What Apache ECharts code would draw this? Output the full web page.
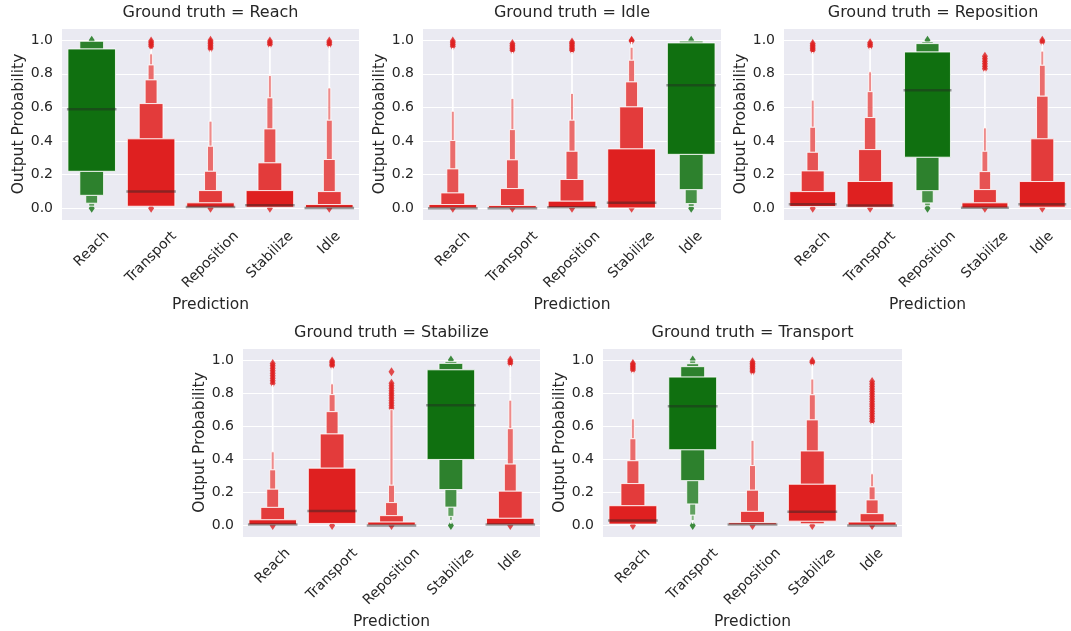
<!DOCTYPE html>
<html><head><meta charset="utf-8">
<script src="https://cdn.jsdelivr.net/npm/echarts@6/dist/echarts.min.js"></script>
<style>html,body{margin:0;padding:0;background:#fff}#main{width:1071px;height:631px}</style>
</head><body><div id="main"></div>
<script>
// ---------------- DATA ----------------
const categories = ['Reach', 'Transport', 'Reposition', 'Stabilize', 'Idle'];
const panelTitles = ['Ground truth = Reach', 'Ground truth = Idle', 'Ground truth = Reposition', 'Ground truth = Stabilize', 'Ground truth = Transport'];
const groundTruthIndex = [0, 4, 2, 3, 1];

// Panel: Ground truth = Reach
const reachMedians = [0.59, 0.10, 0.008, 0.018, 0.002];
const reachUpper = [[0.948, 0.994], [0.413, 0.623, 0.764, 0.853, 0.919, 0.95], [0.032, 0.105, 0.22, 0.369, 0.518, 0.94], [0.105, 0.27, 0.472, 0.657, 0.79, 0.889, 0.965], [0.022, 0.099, 0.29, 0.524, 0.716, 0.875, 0.965]];
const reachLower = [[0.22, 0.077, 0.03, 0.012], [0.012], [0.006], [0.006], [0.003]];
const reachOutliers = [[0.0, 1.0], [0.0, 0.965, 0.975, 0.985, 0.995], [0.0, 0.95, 0.96, 0.97, 0.98, 0.99, 1.0], [0.0, 0.975, 0.985, 0.995], [0.0, 0.975, 0.985, 0.995]];

// Panel: Ground truth = Idle
const idleMedians = [0.0, 0.0, 0.006, 0.032, 0.732];
const idleUpper = [[0.022, 0.091, 0.234, 0.403, 0.577, 0.955], [0.016, 0.117, 0.288, 0.468, 0.653, 0.93], [0.042, 0.171, 0.339, 0.524, 0.683, 0.93], [0.353, 0.603, 0.752, 0.881, 0.958, 0.99], [0.984, 0.995]];
const idleLower = [[0.002], [0.002], [0.004], [0.002], [0.321, 0.111, 0.028, 0.01]];
const idleOutliers = [[0.0, 0.965, 0.975, 0.985, 0.995], [0.0, 0.94, 0.95, 0.96, 0.97, 0.98], [0.0, 0.94, 0.95, 0.96, 0.97, 0.98, 0.99], [0.0, 0.995, 1.0], [0.0, 1.0]];

// Panel: Ground truth = Reposition
const repositionMedians = [0.024, 0.016, 0.702, 0.003, 0.024];
const repositionUpper = [[0.099, 0.222, 0.333, 0.482, 0.643, 0.93], [0.159, 0.349, 0.54, 0.694, 0.812, 0.955], [0.93, 0.98, 0.99], [0.032, 0.111, 0.218, 0.339, 0.478, 0.587, 0.82], [0.159, 0.413, 0.667, 0.851, 0.935, 0.98]];
const repositionLower = [[0.01], [0.006], [0.304, 0.105, 0.032, 0.015], [0.002], [0.006]];
const repositionOutliers = [[0.0, 0.94, 0.95, 0.96, 0.97, 0.98], [0.0, 0.965, 0.975, 0.985], [0.0, 1.0], [0.0, 0.83, 0.845, 0.86, 0.875, 0.89, 0.905], [0.0, 0.99, 1.0]];

// Panel: Ground truth = Stabilize
const stabilizeMedians = [0.005, 0.087, 0.0, 0.727, 0.005];
const stabilizeUpper = [[0.034, 0.109, 0.219, 0.336, 0.445, 0.85], [0.346, 0.553, 0.688, 0.791, 0.856, 0.955], [0.02, 0.059, 0.138, 0.243, 0.70], [0.941, 0.98, 0.992], [0.043, 0.207, 0.371, 0.585, 0.757, 0.893, 0.97]];
const stabilizeLower = [[0.004], [0.012], [0.002], [0.399, 0.217, 0.111, 0.055, 0.03, 0.01], [0.004]];
const stabilizeOutliers = [[0.0, 0.86, 0.875, 0.89, 0.905, 0.92, 0.935, 0.95, 0.965, 0.98], [0.0, 0.965, 0.975, 0.985, 0.995], [0.0, 0.71, 0.725, 0.74, 0.755, 0.77, 0.785, 0.80, 0.815, 0.83, 0.845, 0.86, 0.93], [0.0, 1.0], [0.0, 0.98, 0.99, 1.0]];

// Panel: Ground truth = Transport
const transportMedians = [0.03, 0.721, 0.005, 0.083, 0.0];
const transportUpper = [[0.119, 0.253, 0.391, 0.524, 0.644, 0.93], [0.897, 0.96, 0.978, 0.995], [0.016, 0.085, 0.213, 0.362, 0.514, 0.92], [0.249, 0.45, 0.638, 0.79, 0.885, 0.975], [0.02, 0.071, 0.154, 0.233, 0.312, 0.423, 0.62]];
const transportLower = [[0.008], [0.458, 0.271, 0.13, 0.063, 0.03, 0.01], [0.004], [0.026, 0.01], [0.002]];
const transportOutliers = [[0.0, 0.94, 0.95, 0.96, 0.97, 0.98], [0.0, 1.0], [0.0, 0.93, 0.94, 0.95, 0.96, 0.97, 0.98, 0.99], [0.0, 0.985, 0.995], [0.0, 0.63, 0.645, 0.66, 0.675, 0.69, 0.705, 0.72, 0.735, 0.75, 0.765, 0.78, 0.795, 0.81, 0.825, 0.84, 0.855, 0.87]];

const yTicks = [0.0, 0.2, 0.4, 0.6, 0.8, 1.0];

// ---------------- STYLE / LAYOUT ----------------
const panels = [
  { medians: reachMedians, upper: reachUpper, lower: reachLower, outliers: reachOutliers },
  { medians: idleMedians, upper: idleUpper, lower: idleLower, outliers: idleOutliers },
  { medians: repositionMedians, upper: repositionUpper, lower: repositionLower, outliers: repositionOutliers },
  { medians: stabilizeMedians, upper: stabilizeUpper, lower: stabilizeLower, outliers: stabilizeOutliers },
  { medians: transportMedians, upper: transportUpper, lower: transportLower, outliers: transportOutliers }
];
const gridBoxes = [
  { left: 62, top: 28, width: 297, height: 192 },
  { left: 423, top: 28, width: 298, height: 192 },
  { left: 784, top: 28, width: 298, height: 192 },
  { left: 243, top: 348, width: 297, height: 192 },
  { left: 603, top: 348, width: 299, height: 192 }
];
const FONT = 'DejaVu Sans';
const TEXT = '#262626';
const RED = [223, 32, 32], GREEN = [16, 112, 16];
const LEVEL_MIX = [0, 0.12, 0.23, 0.34, 0.48, 0.75, 1, 1, 1, 1];
function levelColor(base, lvl) {
  const t = LEVEL_MIX[Math.min(lvl, LEVEL_MIX.length - 1)];
  return 'rgb(' + base.map(c => Math.round(c + (255 - c) * t)).join(',') + ')';
}
const baseRed = levelColor(RED, 0), baseGreen = levelColor(GREEN, 0);

// measure label widths for matplotlib-like centred rotated labels
const cv = document.createElement('canvas').getContext('2d');
cv.font = '14px "' + FONT + '"';
const rich = {};
categories.forEach(c => {
  const L = cv.measureText(c).width;
  const P = L / 2;
  rich[c] = { padding: [P, P, 0, 0], fontSize: 14, color: TEXT, fontFamily: FONT };
});

const grid = [], xAxis = [], yAxis = [], series = [], graphic = [];
panels.forEach((p, i) => {
  const g = gridBoxes[i];
  const gt = groundTruthIndex[i];
  grid.push(Object.assign({ show: true, backgroundColor: '#eaeaf2', borderWidth: 0, containLabel: false }, g));
  xAxis.push({
    type: 'category', gridIndex: i, data: categories,
    axisLine: { show: false }, axisTick: { show: false }, splitLine: { show: false },
    axisLabel: {
      interval: 0, rotate: 45, align: 'center', verticalAlign: 'middle', margin: 14,
      fontSize: 14, color: TEXT, fontFamily: FONT,
      formatter: v => '{' + v + '|' + v + '}', rich: rich
    },
    name: 'Prediction', nameLocation: 'middle', nameGap: 77,
    nameTextStyle: { fontSize: 15.5, color: TEXT, fontFamily: FONT }
  });
  yAxis.push({
    type: 'value', gridIndex: i, min: -0.07, max: 1.073, splitNumber: 5,
    axisLine: { show: false }, axisTick: { show: false },
    splitLine: { show: true, lineStyle: { color: '#ffffff', width: 1.2 } },
    axisLabel: {
      showMinLabel: false, showMaxLabel: false, margin: 9, fontSize: 14, color: TEXT, fontFamily: FONT,
      formatter: v => yTicks.some(t => Math.abs(t - v) < 1e-6) ? v.toFixed(1) : ''
    },
    name: 'Output Probability', nameLocation: 'middle', nameGap: 35,
    nameTextStyle: { fontSize: 15.5, color: TEXT, fontFamily: FONT }
  });

  // outliers
  const outData = [];
  p.outliers.forEach((arr, c) => arr.forEach(v => outData.push([c, v])));
  series.push({
    type: 'scatter', xAxisIndex: i, yAxisIndex: i, z: 1, silent: true,
    symbol: 'diamond', symbolSize: [6, 9],
    itemStyle: { color: params => params.data[0] === gt ? baseGreen : baseRed },
    data: outData
  });

  // letter-value boxes
  const items = [];
  for (let c = 0; c < categories.length; c++) {
    const isGt = c === gt ? 1 : 0;
    const up = p.upper[c], lo = p.lower[c];
    items.push([c, lo[0], up[0], 0, isGt]);
    for (let k = 1; k < up.length; k++) items.push([c, up[k - 1], up[k], k, isGt]);
    for (let k = 1; k < lo.length; k++) items.push([c, lo[k], lo[k - 1], k, isGt]);
  }
  items.sort((a, b) => b[3] - a[3]);
  series.push({
    type: 'custom', xAxisIndex: i, yAxisIndex: i, z: 2, silent: true,
    encode: { x: 0, y: [1, 2] },
    data: items,
    renderItem: (params, api) => {
      const c = api.value(0), lo = api.value(1), hi = api.value(2), lvl = api.value(3), isGt = api.value(4);
      const band = api.size([1, 0])[0];
      let w = band * 0.8 / Math.pow(2, lvl);
      const pt = api.coord([c, hi]), pb = api.coord([c, lo]);
      let fill = levelColor(isGt ? GREEN : RED, lvl);
      let thin = false;
      if (w < 2.2) { w = 1.7; fill = '#ffffff'; thin = true; }
      return {
        type: 'rect',
        shape: { x: pt[0] - w / 2, y: pt[1], width: w, height: Math.max(pb[1] - pt[1], 0.6) },
        style: { fill: fill, stroke: thin ? null : '#ffffff', lineWidth: 0.8 }
      };
    }
  });

  // medians
  series.push({
    type: 'custom', xAxisIndex: i, yAxisIndex: i, z: 3, silent: true,
    encode: { x: 0, y: 1 },
    data: p.medians.map((m, c) => [c, m]),
    renderItem: (params, api) => {
      const pt = api.coord([api.value(0), api.value(1)]);
      const band = api.size([1, 0])[0];
      const hw = band * 0.4 + 1;
      return {
        type: 'line',
        shape: { x1: pt[0] - hw, y1: pt[1], x2: pt[0] + hw, y2: pt[1] },
        style: { stroke: 'rgba(38,38,38,0.45)', lineWidth: 2.5 }
      };
    }
  });

  graphic.push({
    type: 'text', x: g.left + g.width / 2, y: g.top - 15, silent: true,
    style: { text: panelTitles[i], fontSize: 16, fontFamily: FONT, fill: TEXT,
      textAlign: 'center', textVerticalAlign: 'middle', align: 'center', verticalAlign: 'middle' }
  });
});

const chart = echarts.init(document.getElementById('main'), null, { renderer: 'canvas' });
chart.setOption({
  animation: false,
  backgroundColor: '#ffffff',
  textStyle: { fontFamily: FONT },
  grid: grid, xAxis: xAxis, yAxis: yAxis, series: series, graphic: graphic
});
</script>
</body></html>
